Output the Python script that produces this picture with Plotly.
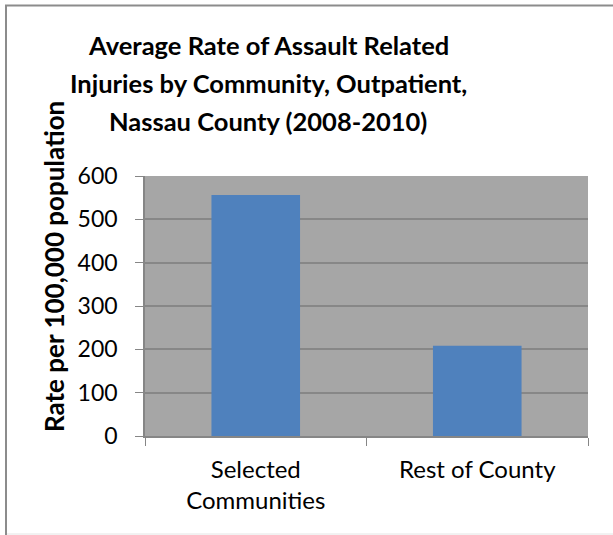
import plotly.graph_objects as go

categories = ["Selected<br>Communities", "Rest of County"]
rates = [556, 208]
y_ticks = [0, 100, 200, 300, 400, 500, 600]
title_lines = ["Average Rate of Assault Related",
               "Injuries by Community, Outpatient,",
               "Nassau County (2008-2010)"]
y_title = "Rate per 100,000 population"

W, H = 613, 535
L, R, T, B = 145, 25, 176, 99
pw, ph = W - L - R, H - T - B

def px_x(x):
    return (x - L) / pw

def px_y(y):
    return (H - B - y) / ph

FONT = "Lato"

fig = go.Figure(go.Bar(
    x=categories, y=rates,
    marker=dict(color="#4F81BD", line=dict(width=0)),
    width=0.4,
))

annotations = []
for line, yc in zip(title_lines, [45, 83, 121]):
    annotations.append(dict(
        text=line, xref="paper", yref="paper", x=px_x(268), y=px_y(yc),
        xanchor="center", yanchor="middle", showarrow=False,
        font=dict(family=FONT, size=25.5, color="black", weight="bold"),
    ))
annotations.append(dict(
    text=y_title, xref="paper", yref="paper", x=px_x(54), y=px_y(267),
    xanchor="center", yanchor="middle", showarrow=False, textangle=-90,
    font=dict(family=FONT, size=26, color="black", weight="bold"),
))

shapes = [
    dict(type="line", xref="paper", yref="paper", x0=px_x(5), x1=px_x(613),
         y0=px_y(5.5), y1=px_y(5.5), line=dict(color="#8C8C8C", width=2)),
    dict(type="line", xref="paper", yref="paper", x0=px_x(6), x1=px_x(6),
         y0=px_y(5), y1=px_y(535), line=dict(color="#8C8C8C", width=2)),
    dict(type="line", xref="paper", yref="paper", x0=px_x(7), x1=px_x(613),
         y0=px_y(534), y1=px_y(534), line=dict(color="#E4E4E4", width=1)),
]

fig.update_layout(
    width=W, height=H,
    margin=dict(l=L, r=R, t=T, b=B, pad=0),
    paper_bgcolor="white",
    plot_bgcolor="#A6A6A6",
    showlegend=False,
    annotations=annotations,
    shapes=shapes,
    font=dict(family=FONT, size=23, color="black"),
)
fig.update_xaxes(
    showline=True, linecolor="#868686", linewidth=1.5,
    ticks="outside", tickson="boundaries", ticklen=8, tickcolor="#868686",
    tickfont=dict(family=FONT, size=24, color="black"),
    ticklabelstandoff=11,
    showgrid=False,
)
fig.update_yaxes(
    range=[0, 600], tickvals=y_ticks, ticktext=[str(v) for v in y_ticks],
    showline=True, linecolor="#868686", linewidth=1.5,
    ticks="outside", ticklen=8, tickcolor="#868686",
    tickfont=dict(family=FONT, size=23, color="black"),
    ticklabelstandoff=13,
    showgrid=True, gridcolor="#878787", gridwidth=1.5,
    zeroline=False,
)

fig.write_html("out.html", config={"displayModeBar": False},
               post_script="document.body.style.margin='0';")
